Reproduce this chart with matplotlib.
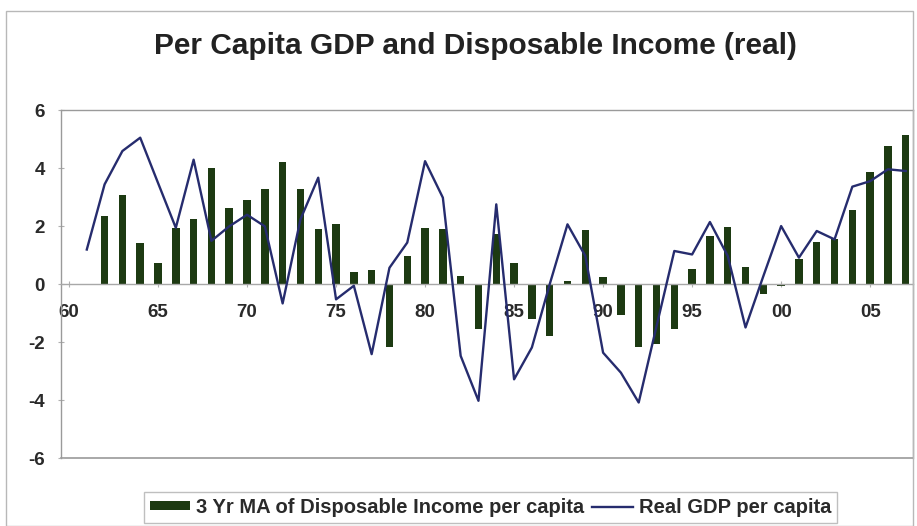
import numpy as np
import matplotlib.pyplot as plt
from matplotlib.patches import Rectangle

plt.rcParams['font.family'] = ['Liberation Sans', 'DejaVu Sans']
plt.rcParams['axes.unicode_minus'] = False

# years 1960..2007, plotted as category positions 0..47
years = list(range(1960, 2008))

# 3 yr moving average of real disposable income per capita (1962-2007)
income_years = list(range(1962, 2008))
income_ma = [2.36, 3.07, 1.41, 0.72, 1.95, 2.26, 4.02, 2.64, 2.91, 3.28,
             4.22, 3.30, 1.92, 2.07, 0.43, 0.48, -2.18, 0.98, 1.95, 1.90,
             0.29, -1.55, 1.72, 0.75, -1.21, -1.78, 0.11, 1.87, 0.25, -1.07,
             -2.18, -2.07, -1.55, 0.52, 1.67, 1.98, 0.61, -0.34, -0.05, 0.89,
             1.46, 1.55, 2.56, 3.87, 4.77, 5.14]

# real GDP per capita growth (1961-2007)
gdp_years = list(range(1961, 2008))
gdp = [1.2, 3.45, 4.6, 5.06, 3.5, 1.95, 4.3, 1.5, 2.0, 2.4,
       2.0, -0.66, 2.24, 3.68, -0.52, -0.05, -2.41, 0.57, 1.44, 4.25,
       2.99, -2.47, -4.02, 2.76, -3.28, -2.18, 0.0, 2.07, 0.98, -2.36,
       -3.05, -4.08, -1.45, 1.15, 1.03, 2.15, 0.98, -1.49, 0.28, 2.01,
       0.92, 1.84, 1.55, 3.37, 3.56, 3.97, 3.91]

tick_years = list(range(1960, 2008, 5))
tick_labels = ['%02d' % (y % 100) for y in tick_years]

fig = plt.figure(figsize=(9.17, 5.26), dpi=100)
ax = fig.add_axes([0.0665, 0.129, 0.929, 0.661])

xi = [y - 1960 for y in income_years]
xg = [y - 1960 for y in gdp_years]
bars = ax.bar(xi, income_ma, width=0.42, color='#1d3a12', zorder=2)
line, = ax.plot(xg, gdp, color='#262c6e', lw=1.7, zorder=3)

ax.set_xlim(-0.45, 47.4)
ax.set_ylim(-6, 6)
ax.set_yticks([-6, -4, -2, 0, 2, 4, 6])
ax.set_xticks([y - 1960 for y in tick_years])
ax.set_xticklabels(tick_labels)

for side in ['top', 'right', 'left']:
    ax.spines[side].set_color('#9a9a9a')
    ax.spines[side].set_linewidth(1.0)
ax.spines['bottom'].set_position(('data', 0))
ax.spines['bottom'].set_color('#a8a8a8')
ax.spines['bottom'].set_linewidth(1.0)
ax.axhline(-6, color='#9a9a9a', lw=1.2, clip_on=False, zorder=1)

ax.tick_params(axis='x', direction='inout', length=5, color='#b0b0b0',
               labelsize=13.5, pad=12, labelcolor='#2a2a2a')
ax.tick_params(axis='y', direction='inout', length=5, color='#b0b0b0',
               labelsize=13.5, pad=9, labelcolor='#2a2a2a')
for lbl in ax.get_xticklabels() + ax.get_yticklabels():
    lbl.set_fontweight('bold')

fig.text(0.518, 0.912, 'Per Capita GDP and Disposable Income (real)',
         ha='center', va='center', fontsize=21.5, fontweight='bold',
         color='#222222')

leg = fig.legend([bars, line],
                 ['3 Yr MA of Disposable Income per capita', 'Real GDP per capita'],
                 loc='center', bbox_to_anchor=(0.535, 0.036), ncol=2,
                 frameon=True, fancybox=False, edgecolor='#b0b0b0',
                 handlelength=2.0, handleheight=0.35,
                 columnspacing=0.4, handletextpad=0.3, borderpad=0.3,
                 prop={'weight': 'bold', 'size': 14.5})
leg.get_frame().set_linewidth(1.0)
for t in leg.get_texts():
    t.set_color('#2a2a2a')

# chart outline
fig.patches.append(Rectangle((0.006, 0.0), 0.99, 0.98, transform=fig.transFigure,
                             fill=False, edgecolor='#b8b8b8', lw=1.0))

fig.savefig('out.png', dpi=100)
